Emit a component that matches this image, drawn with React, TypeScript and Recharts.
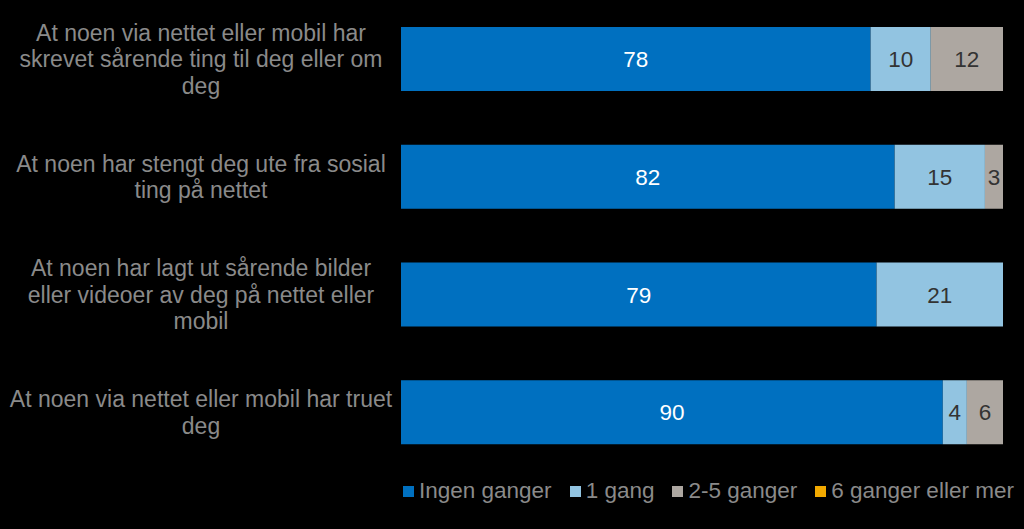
import { BarChart, Bar, XAxis, YAxis, Legend, LabelList } from "recharts";

const categories = [
  "At noen via nettet eller mobil har\nskrevet sårende ting til deg eller om\ndeg",
  "At noen har stengt deg ute fra sosial\nting på nettet",
  "At noen har lagt ut sårende bilder\neller videoer av deg på nettet eller\nmobil",
  "At noen via nettet eller mobil har truet\ndeg",
];
const ingenGanger = [78, 82, 79, 90];
const enGang = [10, 15, 21, 4];
const toFemGanger = [12, 3, 0, 6];
const seksEllerMer = [0, 0, 0, 0];

const series = [
  { key: "ingen", name: "Ingen ganger", values: ingenGanger, color: "#0070C0", text: "#ffffff" },
  { key: "en", name: "1 gang", values: enGang, color: "#92C4E1", text: "#333333" },
  { key: "tofem", name: "2-5 ganger", values: toFemGanger, color: "#ADA7A1", text: "#333333" },
  { key: "seks", name: "6 ganger eller mer", values: seksEllerMer, color: "#F2A900", text: "#333333" },
];

const data = categories.map((cat, i) => {
  const row: Record<string, string | number> = { cat };
  series.forEach((s) => (row[s.key] = s.values[i]));
  return row;
});

const FONT = "'Liberation Sans', Arial, sans-serif";

function CategoryTick({ y, payload }: any) {
  const lines = String(payload.value).split("\n");
  const lh = 26.5;
  const start = y - ((lines.length - 1) * lh) / 2;
  return (
    <text x={201} y={start} textAnchor="middle" fill="#8a8a8a" fontSize={23} fontFamily={FONT}>
      {lines.map((l, i) => (
        <tspan key={i} x={201} y={start + i * lh} dy="0.36em">
          {l}
        </tspan>
      ))}
    </text>
  );
}

function makeLabel(color: string) {
  return (props: any) => {
    const { x, y, width, height, value } = props;
    if (!value) return null;
    return (
      <text
        x={x + width / 2}
        y={y + height / 2}
        dy="0.36em"
        textAnchor="middle"
        fill={color}
        fontSize={22.5}
        fontFamily={FONT}
      >
        {value}
      </text>
    );
  };
}

function LegendContent() {
  return (
    <div style={{ display: "flex", alignItems: "center", fontFamily: FONT, fontSize: 22.5, color: "#8a8a8a", whiteSpace: "nowrap" }}>
      {series.map((s) => (
        <div key={s.key} style={{ display: "flex", alignItems: "center", marginRight: 18 }}>
          <span style={{ width: 11, height: 11, background: s.color, display: "inline-block", marginRight: 5 }} />
          <span>{s.name}</span>
        </div>
      ))}
    </div>
  );
}

export default function App() {
  return (
    <div style={{ position: "absolute", left: 0, top: 0, width: 1024, height: 529, background: "#000" }}>
      <BarChart
        width={1024}
        height={529}
        data={data}
        layout="vertical"
        margin={{ top: 0, right: 21, bottom: 31, left: 0 }}
        barSize={64}
      >
        <XAxis type="number" domain={[0, 100]} hide />
        <YAxis
          type="category"
          dataKey="cat"
          width={401}
          axisLine={false}
          tickLine={false}
          tick={<CategoryTick />}
          interval={0}
        />
        <Legend
          content={<LegendContent />}
          wrapperStyle={{ position: "absolute", left: 403, top: 478, width: 621, height: 27 }}
        />
        {series.map((s) => (
          <Bar key={s.key} dataKey={s.key} name={s.name} stackId="a" fill={s.color} isAnimationActive={false}>
            <LabelList dataKey={s.key} content={makeLabel(s.text)} />
          </Bar>
        ))}
      </BarChart>
    </div>
  );
}
